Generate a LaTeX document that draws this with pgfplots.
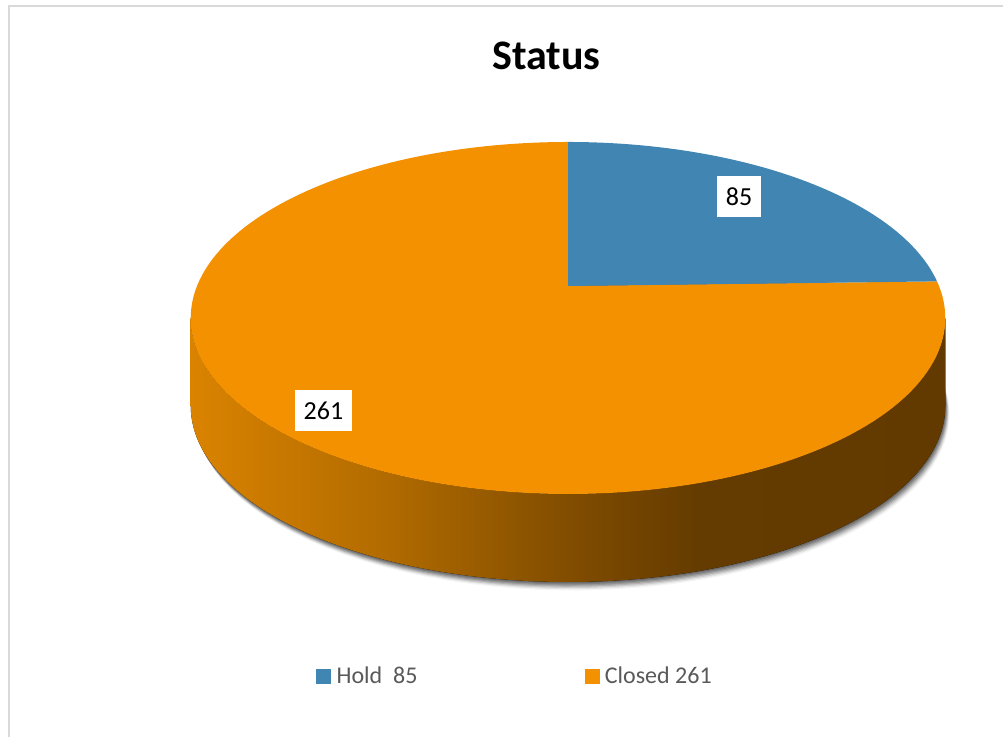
\documentclass[border=0pt]{standalone}
\usepackage{pgfplots}
\pgfplotsset{compat=1.18}
\usepackage{pgfplotstable}
\usepackage{fontspec}
\setmainfont{Carlito}
\definecolor{holdblue}{HTML}{4186B2}
\definecolor{closedorange}{HTML}{F39100}
\definecolor{legendgray}{HTML}{595959}
\definecolor{framegray}{HTML}{D9D9D9}
\definecolor{sideA}{HTML}{DA8300}
\definecolor{sideB}{HTML}{B36C00}
\definecolor{sideC}{HTML}{7E4B00}
\definecolor{sideD}{HTML}{643B00}
\definecolor{sideE}{HTML}{623A00}
\pgfdeclarehorizontalshading{sideshade}{100bp}{color(0bp)=(sideA); color(25bp)=(sideA); color(37.5bp)=(sideB); color(50.8bp)=(sideC); color(58.8bp)=(sideD); color(75bp)=(sideE); color(100bp)=(sideE)}

\pgfplotstableread{
label value
Hold 85
Closed 261
}\statusdata
\pgfplotstablegetelem{0}{value}\of\statusdata
\let\vHold\pgfplotsretval
\pgfplotstablegetelem{1}{value}\of\statusdata
\let\vClosed\pgfplotsretval
\pgfmathsetmacro\total{\vHold+\vClosed}
\pgfmathsetmacro\aHold{90-(\vHold/\total)*360}
\pgfmathsetmacro\aClosedEnd{\aHold+360}

% perspective view of the pie's circular top face
\pgfmathdeclarefunction{pieX}{1}{\begingroup\pgfmathparse{568+371*cos(#1)/(1+0.1818*sin(#1))}\pgfmathsmuggle\pgfmathresult\endgroup}
\pgfmathdeclarefunction{pieY}{1}{\begingroup\pgfmathparse{450+170.2*sin(#1)/(1+0.1818*sin(#1))}\pgfmathsmuggle\pgfmathresult\endgroup}
\tikzset{shadowlayer/.style={black, opacity=#1}}
\newcommand\shadowpath{plot[variable=\t, domain=0:360, samples=120] ({pieX(\t)},{pieY(\t)-88}) -- cycle}

\begin{document}
\begin{tikzpicture}
\begin{axis}[
  at={(0,0)}, anchor=south west,
  scale only axis, width=1003pt, height=736pt,
  xmin=0, xmax=1003, ymin=0, ymax=736,
  hide axis, clip=false,
  legend columns=2,
  legend style={draw=none, fill=none, at={(axis cs:313,60)}, anchor=west,
    font=\fontsize{24}{28}\selectfont, text=legendgray,
    /tikz/every even column/.append style={column sep=164pt},
    nodes={inner xsep=3pt, inner ysep=0pt}},
  legend cell align=left,
]
\addlegendimage{legend image code/.code={\fill[holdblue] (0pt,-7pt) rectangle (14pt,7pt); \path (17pt,0pt);}}
\addlegendentry{Hold~~\vHold}
\addlegendimage{legend image code/.code={\fill[closedorange] (0pt,-7pt) rectangle (14pt,7pt); \path (17pt,0pt);}}
\addlegendentry{Closed \vClosed}

% soft shadow
\fill[shadowlayer=0.16, shift={(0.6pt,-1.2pt)}] \shadowpath;
\fill[shadowlayer=0.16, shift={(1.2pt,-2.4pt)}] \shadowpath;
\fill[shadowlayer=0.15, shift={(1.8pt,-3.6pt)}] \shadowpath;
\fill[shadowlayer=0.13, shift={(2.4pt,-4.8pt)}] \shadowpath;
\fill[shadowlayer=0.10, shift={(3.0pt,-6.0pt)}] \shadowpath;
\fill[shadowlayer=0.07, shift={(3.6pt,-7.2pt)}] \shadowpath;
\fill[shadowlayer=0.04, shift={(4.2pt,-8.4pt)}] \shadowpath;
% side wall
\fill[shading=sideshade]
  plot[variable=\t, domain=190.47:349.53, samples=100] ({pieX(\t)},{pieY(\t)})
  -- plot[variable=\t, domain=349.53:190.47, samples=100] ({pieX(\t)},{pieY(\t)-88}) -- cycle;
% top face slices
\fill[closedorange] (568,450) -- plot[variable=\t, domain=90:\aClosedEnd, samples=180] ({pieX(\t)},{pieY(\t)}) -- cycle;
\fill[holdblue] (568,450) -- plot[variable=\t, domain=\aHold:90, samples=80] ({pieX(\t)},{pieY(\t)}) -- cycle;

% data labels
\node[fill=white, inner sep=0pt, minimum width=44pt, minimum height=41pt, font=\fontsize{26}{30}\selectfont] at (axis cs:739,539.5) {\vHold};
\node[fill=white, inner sep=0pt, minimum width=57pt, minimum height=41pt, font=\fontsize{26}{30}\selectfont] at (axis cs:323.5,325.5) {\vClosed};

% title
\node[anchor=base, font=\fontsize{42}{50}\selectfont\bfseries] at (axis cs:546.5,666) {Status};

% chart frame
\draw[framegray, line width=2pt] (axis cs:9,-5) -- (axis cs:9,730) -- (axis cs:1010,730);
\end{axis}
\pgfresetboundingbox
\useasboundingbox (0,0) rectangle (1003pt,736pt);
\end{tikzpicture}
\end{document}
